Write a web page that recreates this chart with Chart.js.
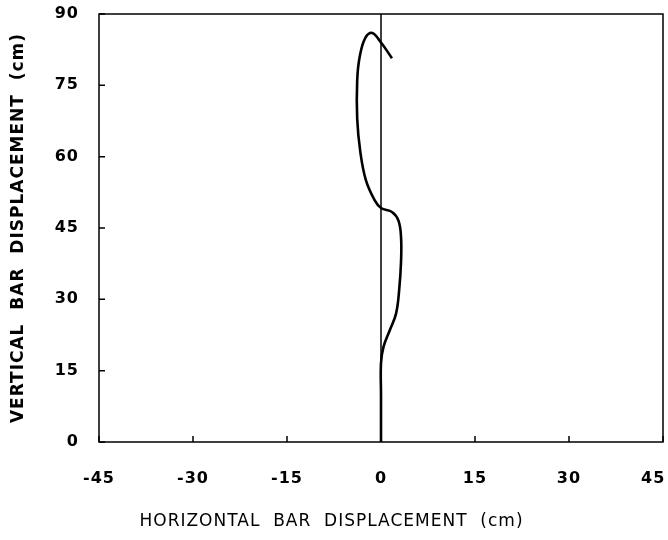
<!DOCTYPE html>
<html>
<head>
<meta charset="utf-8">
<script src="https://cdn.jsdelivr.net/npm/chart.js@4"></script>
<style>
  html, body { margin: 0; padding: 0; background: #fff; }
  #wrap { width: 668px; height: 540px; position: relative; }
</style>
</head>
<body>
<div id="wrap"><canvas id="c"></canvas></div>
<script>
// curve, bottom to top
const horizontal = [0, 0, 0, 0.4, 1.4, 2.4, 2.9, 3.2, 3.2, 2.8, 1.8, 0, -1, -2.4, -3.3, -3.8, -3.8, -3.4, -2.5, -1.4, 0, 1.75];
const vertical = [0, 10, 16.6, 20, 23.5, 27, 32, 38, 43, 46.5, 48.3, 49.2, 50.8, 55, 61, 68, 76, 81, 85, 86, 84, 80.7];
// zero reference line
const zeroX = [0, 0];
const zeroY = [0, 90];
const xTicks = [-45, -30, -15, 0, 15, 30, 45];
const yTicks = [0, 15, 30, 45, 60, 75, 90];

const pts = (xs, ys) => xs.map((x, i) => ({ x, y: ys[i] }));

// frame + inward tick marks
const frame = {
  id: 'frame',
  beforeDraw(chart) { chart.ctx.letterSpacing = '1px'; },
  afterDatasetsDraw(chart) {
    const { ctx, chartArea: a, scales } = chart;
    ctx.save();
    ctx.strokeStyle = '#000';
    ctx.lineWidth = 1.5;
    ctx.strokeRect(a.left, a.top, a.right - a.left, a.bottom - a.top);
    ctx.beginPath();
    xTicks.forEach((v) => {
      const px = scales.x.getPixelForValue(v);
      ctx.moveTo(px, a.bottom); ctx.lineTo(px, a.bottom - 6);
    });
    yTicks.forEach((v) => {
      const py = scales.y.getPixelForValue(v);
      ctx.moveTo(a.left, py); ctx.lineTo(a.left + 6, py);
    });
    ctx.stroke();
    ctx.restore();
  },
  afterDraw(chart) { chart.ctx.letterSpacing = '0px'; },
};

const tickFont = { family: 'DejaVu Sans', size: 16, weight: 'bold' };

new Chart(document.getElementById('c'), {
  type: 'scatter',
  data: {
    datasets: [
      { data: pts(zeroX, zeroY), showLine: true, borderColor: '#000', borderWidth: 1.5, pointRadius: 0 },
      { data: pts(horizontal, vertical), showLine: true, borderColor: '#000', borderWidth: 2.6, pointRadius: 0, tension: 0.4 },
    ],
  },
  options: {
    responsive: true,
    maintainAspectRatio: false,
    animation: false,
    layout: { padding: { top: 14, right: 5, left: 0, bottom: 0 } },
    plugins: {
      legend: { display: false },
      tooltip: { enabled: false },
      title: {
        display: true, position: 'bottom', text: 'HORIZONTAL  BAR  DISPLACEMENT  (cm)', color: '#000',
        font: { family: 'DejaVu Sans', size: 17, weight: 'normal', lineHeight: 1.2 }, padding: { top: 0, bottom: 8 },
      },
    },
    scales: {
      x: {
        type: 'linear', min: -45, max: 45,
        afterBuildTicks: (s) => { s.ticks = xTicks.map((v) => ({ value: v })); },
        afterFit: (s) => { s.height = 69.6; s.paddingLeft = 0; s.paddingRight = 0; },
        grid: { display: false },
        border: { display: false },
        // last label pulled in so it stays on the page
        ticks: { color: '#000', font: tickFont, padding: 19, maxRotation: 0, callback: (v) => (v === 45 ? '45   ' : String(v)) },
      },
      y: {
        type: 'linear', min: 0, max: 90,
        afterBuildTicks: (s) => { s.ticks = yTicks.map((v) => ({ value: v })); },
        afterFit: (s) => { s.width = 99; s.paddingTop = 0; s.paddingBottom = 0; },
        grid: { display: false },
        border: { display: false },
        ticks: { color: '#000', font: tickFont, padding: 12 },
        title: { display: true, text: 'VERTICAL  BAR  DISPLACEMENT  (cm)', color: '#000', font: { family: 'DejaVu Sans', size: 17, weight: 'bold' }, padding: { bottom: 0, top: 8 } },
      },
    },
  },
  plugins: [frame],
});
</script>
</body>
</html>
